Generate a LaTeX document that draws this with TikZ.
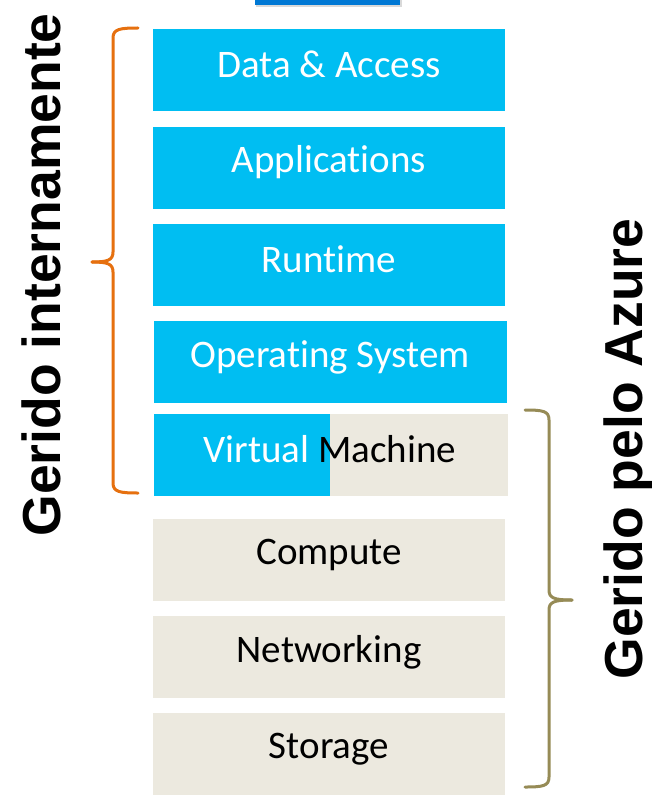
\documentclass[tikz,border=0pt]{standalone}
\usepackage{fontspec}
\setmainfont{Carlito}[Ligatures={NoCommon}, Contextuals=NoAlternate]
\newfontfamily\headfont{Liberation Sans}
\definecolor{azblue}{RGB}{0,190,242}
\definecolor{azbeige}{RGB}{236,233,223}
\definecolor{azorange}{RGB}{230,112,15}
\definecolor{azolive}{RGB}{150,139,86}
\definecolor{azdark}{RGB}{0,120,212}
\tikzset{
  bluebox/.style={fill=azblue, draw=none, inner sep=0pt},
  beigebox/.style={fill=azbeige, draw=none, inner sep=0pt},
  boxtext/.style={font=\fontsize{39}{39}\selectfont, anchor=center, inner sep=0pt},
  sidetext/.style={font=\headfont\bfseries\fontsize{53.5}{53.5}\selectfont, rotate=90, anchor=center, inner sep=0pt},
  bracestyle/.style={line width=3pt, line cap=round, line join=round}
}
\begin{document}
\begin{tikzpicture}[x=1pt, y=-1pt]
\useasboundingbox (0,0) rectangle (652,797);
\fill[white] (0,0) rectangle (652,797);
% top partial box
\begin{scope}
\clip (0,0) rectangle (652,797);
\fill[black!15] (256,-10) rectangle (402,7);
\fill[azdark] (255,-10) rectangle (400,5);
\end{scope}
% boxes
\fill[bluebox] (153,29) rectangle (505,111);
\node[boxtext, text=white] (da) at (329,64) {Data \& Access};
\fill[bluebox] (153,127) rectangle (505,209);
\node[boxtext, text=white] (ap) at (329,162) {Applicat\kern0pt ions};
\fill[bluebox] (153,224) rectangle (505,306);
\node[boxtext, text=white] (rt) at (329,259) {Runtime};
\fill[bluebox] (154,321) rectangle (507,403);
\node[boxtext, text=white] (os) at (330,357) {Operat\kern0pt ing System};
\fill[beigebox] (154,414) rectangle (508,496);
\fill[bluebox] (154,414) rectangle (330,496);
\node[boxtext, text=black] (vm) at (330,449) {{\color{white}Virtual} Machine};
\fill[beigebox] (153,519) rectangle (505,601);
\node[boxtext, text=black] (cp) at (329,555) {Compute};
\fill[beigebox] (153,616) rectangle (505,698);
\node[boxtext, text=black] (nw) at (329,652) {Networking};
\fill[beigebox] (153,713) rectangle (505,795);
\node[boxtext, text=black] (st) at (329,749) {Storage};
% left brace
\draw[bracestyle, azorange] (138,28) .. controls (120,28) and (113,29) .. (113,38) -- (113,252) .. controls (113,260) and (108,262) .. (92,262);
\draw[bracestyle, azorange] (92,262) .. controls (108,262) and (113,264) .. (113,272) -- (113,483) .. controls (113,492) and (120,493) .. (138,493);
% right brace
\draw[bracestyle, azolive] (525,410) .. controls (543,410) and (549,411) .. (549,420) -- (549,590) .. controls (549,598) and (554,600) .. (572,600);
\draw[bracestyle, azolive] (572,600) .. controls (554,600) and (549,602) .. (549,610) -- (549,777) .. controls (549,786) and (543,787) .. (525,787);
% side labels
\node[sidetext] (gi) at (41,275) {Gerido internamente};
\node[sidetext] (ga) at (629,449) {Gerido pelo Azure};
\end{tikzpicture}
\end{document}
